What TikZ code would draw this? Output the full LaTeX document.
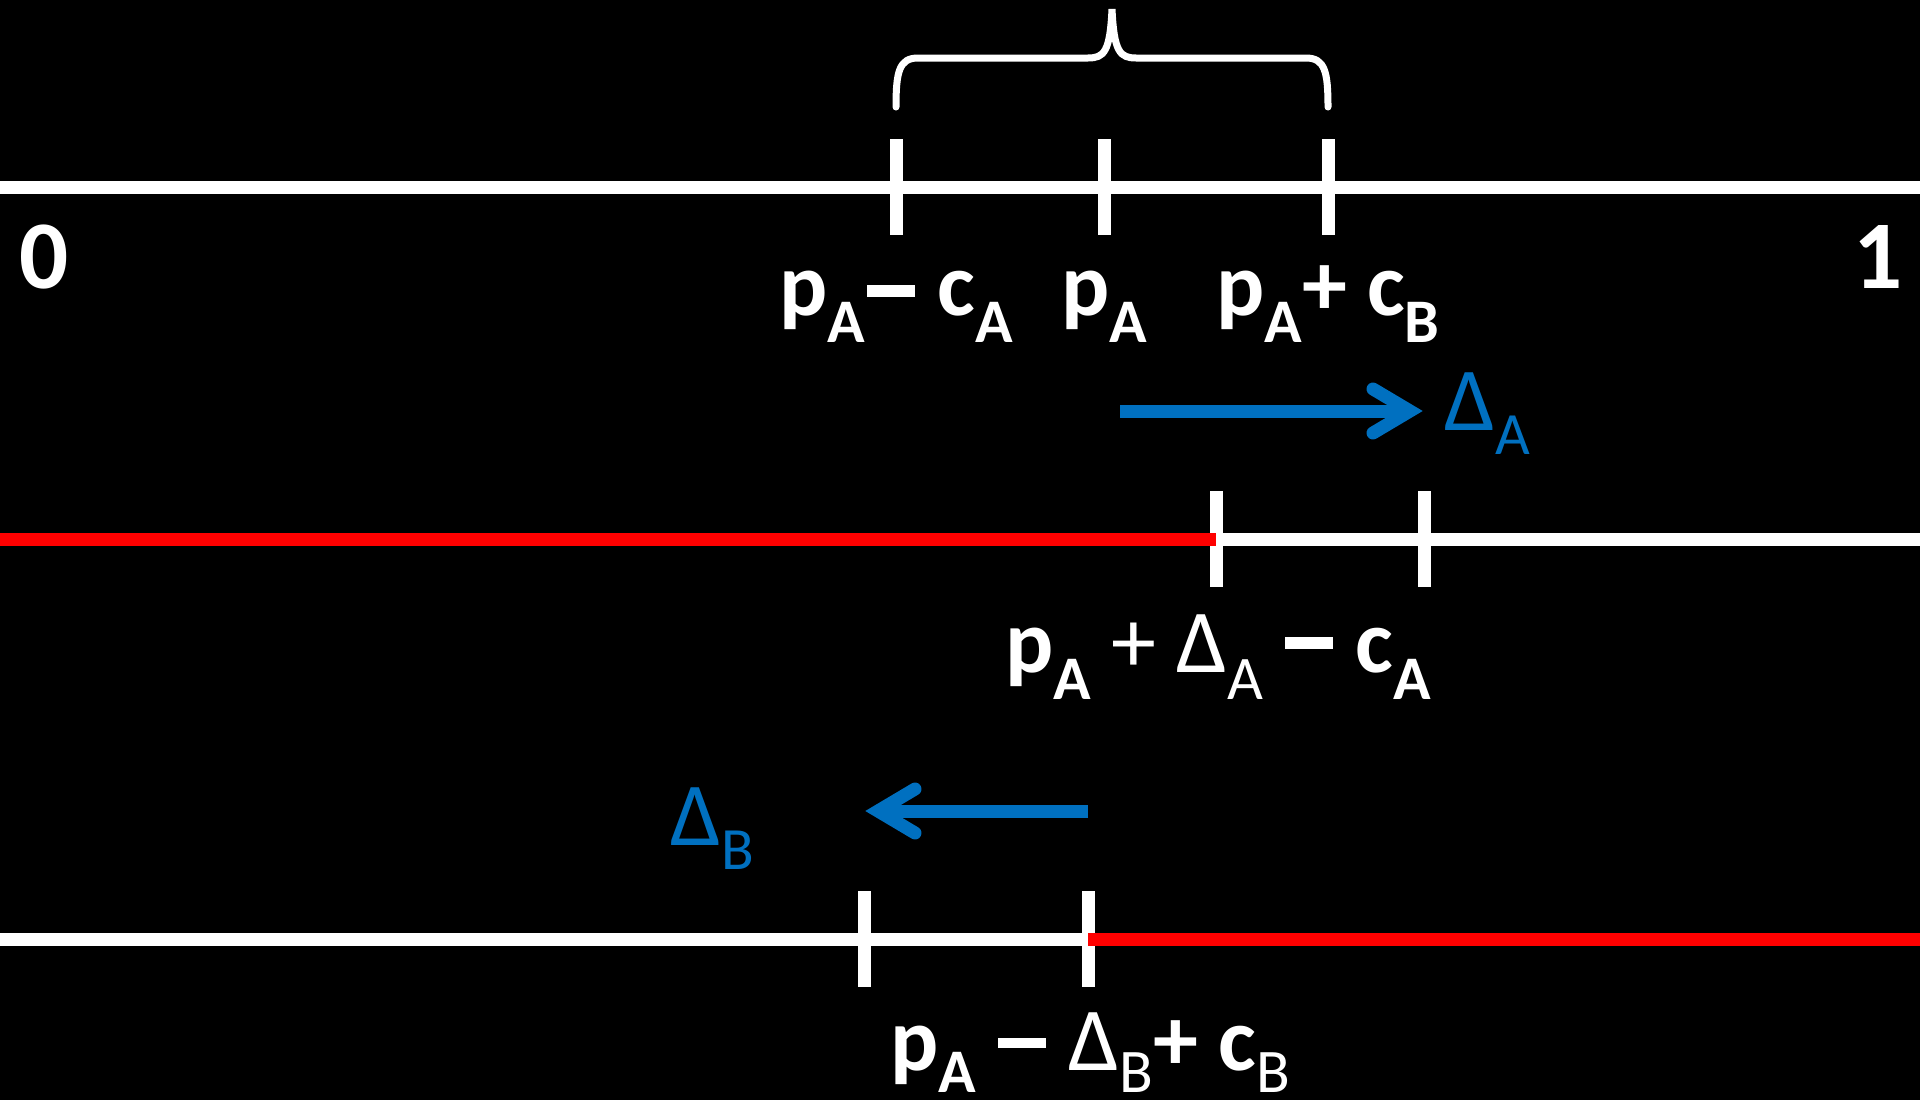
\documentclass[tikz,border=0pt]{standalone}
\usepackage{fontspec}
\setmainfont{Carlito}
\usetikzlibrary{calc}
\definecolor{ablue}{HTML}{0070C0}
\definecolor{ared}{HTML}{FF0000}
\newcommand\bsub[1]{\raisebox{-27pt}{\fontsize{62}{62}\selectfont\bfseries #1}}
\newcommand\rsub[1]{\raisebox{-27pt}{\fontsize{62}{62}\selectfont\mdseries #1}}
\newcommand\bsubc[1]{\raisebox{-22pt}{\fontsize{62}{62}\selectfont\bfseries #1}}
\newcommand\rsubc[1]{\raisebox{-22pt}{\fontsize{62}{62}\selectfont\mdseries #1}}
\newcommand\bluesub[1]{\raisebox{-24pt}{\fontsize{60}{60}\selectfont\mdseries #1}}
% long minus sign drawn as a rule: #1 raise, #2 thickness
\newcommand\lminus[2]{\hspace{2pt}\rule[#1]{48pt}{#2}\hspace{2pt}}
\begin{document}
\begin{tikzpicture}[x=1pt,y=-1pt,
  axisline/.style={line width=13pt, white},
  redline/.style={line width=13pt, ared},
  tickmark/.style={line width=13pt, white},
  bracepath/.style={line width=7pt, white, line cap=round},
  shaft/.style={line width=13pt, ablue},
  chevron/.style={line width=13pt, ablue, line cap=round, line join=miter},
  lbl/.style={inner sep=0pt, anchor=base, text=white, font=\fontsize{90}{100}\selectfont\bfseries},
  digit/.style={inner sep=0pt, text=white, font=\fontsize{97}{100}\selectfont\bfseries},
  bluelbl/.style={inner sep=0pt, anchor=base west, text=ablue, font=\fontsize{90}{100}\selectfont\mdseries}
]
\fill[black] (0,0) rectangle (1920,1100);
\useasboundingbox (0,0) rectangle (1920,1100);

% ---------- row 1 ----------
\coordinate (r1l) at (0,187);
\coordinate (r1r) at (1920,187);
\draw[axisline] (r1l) -- (r1r);
\coordinate (t11) at (896,187);
\coordinate (t12) at (1104,187);
\coordinate (t13) at (1328,187);
\foreach \t in {t11,t12,t13}
  \draw[tickmark] ($(\t)+(0,-48)$) -- ($(\t)+(0,48)$);

% brace
\coordinate (bl) at (896,107);
\coordinate (bm) at (1112,9);
\coordinate (br) at (1328,107);
\draw[bracepath] (bl) .. controls (896,72) and (899,58) .. (918,58)
  -- (1088,58) .. controls (1104,58) and (1110,52) .. (bm)
  .. controls (1114,52) and (1120,58) .. (1136,58)
  -- (1306,58) .. controls (1325,58) and (1328,72) .. (br);

\node[digit, anchor=base west] (zero) at (19,288) {0};
\node[digit, anchor=base east] (one) at (1903,288) {1};

\node[lbl] (l11) at (896,315) {p\bsub{A}\lminus{18pt}{12pt} c\bsub{A}};
\node[lbl] (l12) at (1104,315) {p\bsub{A}};
\node[lbl] (l13) at (1328,315) {p\bsub{A}+ c\bsub{B}};

% ---------- arrow A ----------
\coordinate (aas) at (1120,411);
\coordinate (aat) at (1410,411);
\draw[shaft] (aas) -- (aat);
\draw[chevron] ($(aat)+(-37,-22)$) -- (aat) -- ($(aat)+(-37,22)$);
\node[bluelbl] (da) at (1444,430) {Δ\bluesub{A}};

% ---------- row 2 ----------
\coordinate (r2l) at (0,539);
\coordinate (r2r) at (1920,539);
\coordinate (t21) at (1216,539);
\coordinate (t22) at (1424,539);
\draw[axisline] (r2l) -- (r2r);
\foreach \t in {t21,t22}
  \draw[tickmark] ($(\t)+(0,-48)$) -- ($(\t)+(0,48)$);
\draw[redline] (r2l) -- (t21);
\node[lbl] (l2) at (1218,672) {p\bsub{A} {\mdseries +} {\mdseries Δ\rsub{A}} \lminus{23pt}{12pt} c\bsub{A}};

% ---------- arrow B ----------
\coordinate (abs) at (1088,811);
\coordinate (abt) at (878,811);
\draw[shaft] (abs) -- (abt);
\draw[chevron] ($(abt)+(37,-22)$) -- (abt) -- ($(abt)+(37,22)$);
\node[bluelbl] (db) at (670,845) {Δ\bluesub{B}};

% ---------- row 3 ----------
\coordinate (r3l) at (0,939);
\coordinate (r3r) at (1920,939);
\coordinate (t31) at (864,939);
\coordinate (t32) at (1088,939);
\draw[axisline] (r3l) -- (r3r);
\foreach \t in {t31,t32}
  \draw[tickmark] ($(\t)+(0,-48)$) -- ($(\t)+(0,48)$);
\draw[redline] (t32) -- (r3r);
\node[lbl] (l3) at (1090,1070) {p\bsubc{A} \lminus{22pt}{10pt} {\mdseries Δ\rsubc{B}}+ c\rsubc{B}};
\end{tikzpicture}
\end{document}
